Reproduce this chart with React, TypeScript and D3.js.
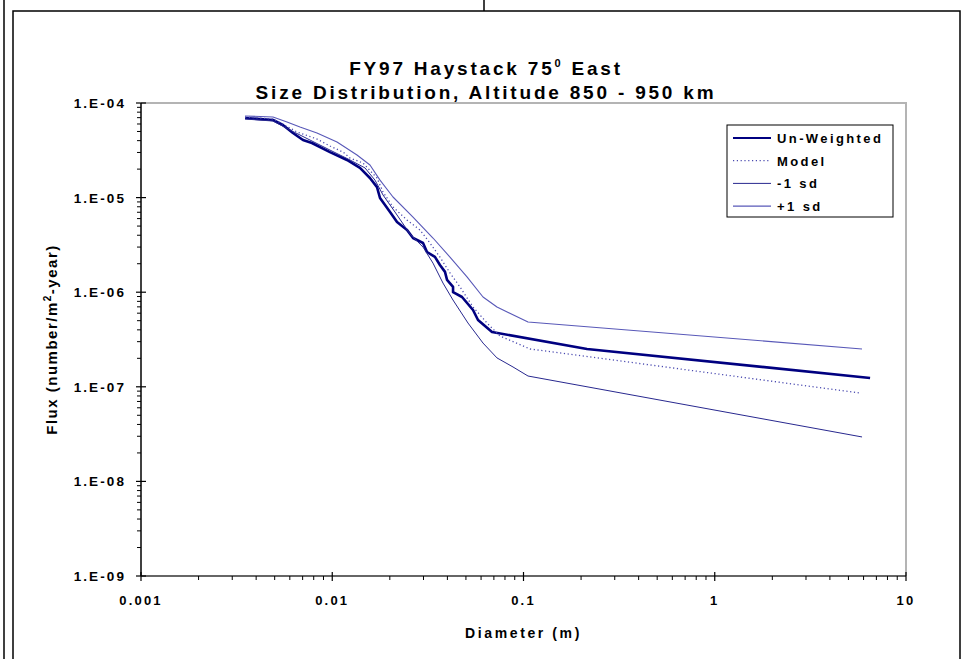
import * as d3 from 'd3'

// flux vs diameter
const unWeighted: [number, number][] = [
  [0.0035, 6.94e-5], [0.0049, 6.61e-5], [0.00552, 5.85e-5], [0.00623, 4.82e-5], [0.00703, 4.06e-5],
  [0.00783, 3.78e-5], [0.00973, 3.03e-5], [0.01194, 2.5e-5], [0.01396, 2.06e-5], [0.01574, 1.61e-5],
  [0.01714, 1.29e-5], [0.01777, 9.9e-6], [0.02005, 7.05e-6], [0.02181, 5.52e-6], [0.02461, 4.55e-6],
  [0.02645, 3.74e-6], [0.02983, 3.31e-6], [0.03129, 2.66e-6], [0.03443, 2.36e-6], [0.03656, 1.94e-6],
  [0.03886, 1.64e-6], [0.03983, 1.35e-6], [0.04282, 1.14e-6], [0.04282, 1.0e-6], [0.04771, 8.9e-7],
  [0.05445, 6.48e-7], [0.05783, 5.08e-7], [0.06845, 3.79e-7], [0.2148, 2.51e-7], [6.49, 1.24e-7],
]

const model: [number, number][] = [
  [0.0035, 7.11e-5], [0.0049, 6.77e-5], [0.00601, 5.44e-5], [0.00654, 4.94e-5], [0.00832, 4.16e-5],
  [0.00973, 3.51e-5], [0.01138, 3.03e-5], [0.01238, 2.62e-5], [0.01448, 2.32e-5], [0.01714, 1.61e-5],
  [0.01843, 1.146e-5], [0.02078, 7.95e-6], [0.02459, 5.8e-6], [0.02876, 4.54e-6], [0.03243, 3.31e-6],
  [0.03658, 2.35e-6], [0.04126, 1.6e-6], [0.04656, 1.135e-6], [0.05444, 6.98e-7], [0.06447, 4.72e-7],
  [0.07535, 3.44e-7], [0.1081, 2.51e-7], [0.2227, 2.07e-7], [5.75, 8.6e-8],
]

const minus1sd: [number, number][] = [
  [0.0035, 6.77e-5], [0.0049, 6.45e-5], [0.00601, 5.18e-5], [0.00765, 4.06e-5], [0.00973, 3.18e-5],
  [0.01238, 2.5e-5], [0.01483, 2.06e-5], [0.01673, 1.53e-5], [0.01843, 1.065e-5], [0.02128, 7.04e-6],
  [0.0255, 4.12e-6], [0.02982, 3.0e-6], [0.03363, 2.03e-6], [0.03793, 1.25e-6], [0.04278, 8.27e-7],
  [0.05126, 4.72e-7], [0.06142, 2.9e-7], [0.07266, 2.02e-7], [0.08814, 1.62e-7], [0.1056, 1.3e-7],
  [5.89, 2.95e-8],
]

const plus1sd: [number, number][] = [
  [0.0035, 7.29e-5], [0.0049, 7.11e-5], [0.0058, 6.3e-5], [0.00678, 5.57e-5], [0.00832, 4.82e-5],
  [0.01059, 3.87e-5], [0.01347, 2.82e-5], [0.01575, 2.21e-5], [0.01777, 1.53e-5], [0.02078, 1.015e-5],
  [0.02644, 6.23e-6], [0.03363, 3.74e-6], [0.04126, 2.35e-6], [0.05065, 1.45e-6], [0.06142, 8.9e-7],
  [0.07266, 6.98e-7], [0.1056, 4.84e-7], [5.89, 2.51e-7],
]

const xTicks = [0.001, 0.01, 0.1, 1, 10]
const xTickLabels = ['0.001', '0.01', '0.1', '1', '10']
const yTicks = [1e-4, 1e-5, 1e-6, 1e-7, 1e-8, 1e-9]
const yTickLabels = ['1.E-04', '1.E-05', '1.E-06', '1.E-07', '1.E-08', '1.E-09']

const legendNames = ['Un-Weighted', 'Model', '-1 sd', '+1 sd']

const W = 971
const H = 659
const plot = { left: 141, right: 906, top: 103, bottom: 576 }
const font = '"Liberation Sans", Arial, sans-serif'

const styles = [
  { stroke: '#000080', width: 2.6, dash: undefined as string | undefined },
  { stroke: '#4a4ab0', width: 1.3, dash: '1.2,2.6' },
  { stroke: '#28288f', width: 1, dash: undefined },
  { stroke: '#5858b8', width: 1.1, dash: undefined },
]

export default function App() {
  const x = d3.scaleLog().domain([0.001, 10]).range([plot.left, plot.right])
  const y = d3.scaleLog().domain([1e-9, 1e-4]).range([plot.bottom, plot.top])
  const line = d3
    .line<[number, number]>()
    .x(d => x(d[0]))
    .y(d => y(d[1]))
  const series = [unWeighted, model, minus1sd, plus1sd]

  const xMinor = x.ticks().filter(t => !xTicks.some(m => Math.abs(m - t) / m < 1e-6))
  const yMinor = y.ticks().filter(t => !yTicks.some(m => Math.abs(m - t) / m < 1e-6))

  const lg = { x: 727, y: 125, w: 166, h: 92 }

  return (
    <svg
      width={W}
      height={H}
      style={{ position: 'absolute', left: 0, top: 0, background: '#fff' }}
      fontFamily={font}
      fontWeight="bold"
    >
      {/* page frame lines */}
      <line x1={4} x2={4} y1={0} y2={H} stroke="#000" strokeWidth={1.5} />
      <line x1={484} x2={484} y1={0} y2={11} stroke="#000" strokeWidth={1.5} />
      <rect x={13} y={11} width={947} height={H + 20} fill="none" stroke="#000" strokeWidth={1.5} />

      {/* title */}
      <text x={486} y={75} textAnchor="middle" fontSize={19} letterSpacing={2.8}>
        FY97 Haystack 75<tspan fontSize={11} dy={-8}>0</tspan>
        <tspan dy={8}> East</tspan>
      </text>
      <text x={486} y={99} textAnchor="middle" fontSize={19} letterSpacing={2.8}>
        Size Distribution, Altitude 850 - 950 km
      </text>

      {/* plot frame */}
      <path
        d={`M${plot.left},${plot.top}H${plot.right}V${plot.bottom}`}
        fill="none"
        stroke="#b4b4b4"
        strokeWidth={2}
      />

      {/* series */}
      {series.map((s, i) => (
        <path
          key={i}
          d={line(s) ?? ''}
          fill="none"
          stroke={styles[i].stroke}
          strokeWidth={styles[i].width}
          strokeDasharray={styles[i].dash}
          strokeLinejoin="round"
        />
      ))}

      {/* x axis */}
      <line x1={plot.left} x2={plot.right} y1={plot.bottom} y2={plot.bottom} stroke="#333" strokeWidth={1.5} />
      {xMinor.map((t, i) => (
        <line key={i} x1={x(t)} x2={x(t)} y1={plot.bottom} y2={plot.bottom + 4} stroke="#000" />
      ))}
      {xTicks.map((t, i) => (
        <g key={i}>
          <line x1={x(t)} x2={x(t)} y1={plot.bottom - 4} y2={plot.bottom + 5} stroke="#000" strokeWidth={1.2} />
          <text x={x(t)} y={plot.bottom + 29} textAnchor="middle" fontSize={13} letterSpacing={2.2}>
            {xTickLabels[i]}
          </text>
        </g>
      ))}
      <text x={(plot.left + plot.right) / 2} y={638} textAnchor="middle" fontSize={14} letterSpacing={2.6}>
        Diameter (m)
      </text>

      {/* y axis */}
      <line x1={plot.left} x2={plot.left} y1={plot.top} y2={plot.bottom} stroke="#000" strokeWidth={1.5} />
      {yMinor.map((t, i) => (
        <line key={i} x1={plot.left - 4} x2={plot.left} y1={y(t)} y2={y(t)} stroke="#000" />
      ))}
      {yTicks.map((t, i) => (
        <g key={i}>
          <line x1={plot.left - 5} x2={plot.left + 5} y1={y(t)} y2={y(t)} stroke="#000" strokeWidth={1.2} />
          <text x={plot.left - 15} y={y(t) + 5} textAnchor="end" fontSize={13.5} letterSpacing={2.1}>
            {yTickLabels[i]}
          </text>
        </g>
      ))}
      <text
        transform={`translate(57,${(plot.top + plot.bottom) / 2}) rotate(-90)`}
        textAnchor="middle"
        fontSize={15}
        letterSpacing={1.5}
      >
        Flux (number/m<tspan fontSize={10} dy={-6}>2</tspan>
        <tspan dy={6}>-year)</tspan>
      </text>

      {/* legend */}
      <rect x={lg.x} y={lg.y} width={lg.w} height={lg.h} fill="#fff" stroke="#000" strokeWidth={1} />
      {legendNames.map((name, i) => {
        const cy = lg.y + 13 + i * 22.7
        return (
          <g key={name}>
            <line
              x1={lg.x + 6}
              x2={lg.x + 44}
              y1={cy}
              y2={cy}
              stroke={styles[i].stroke}
              strokeWidth={i === 0 ? 2 : styles[i].width}
              strokeDasharray={styles[i].dash}
            />
            <text x={lg.x + 50} y={cy + 5} fontSize={13} letterSpacing={2.4}>
              {name}
            </text>
          </g>
        )
      })}
    </svg>
  )
}
